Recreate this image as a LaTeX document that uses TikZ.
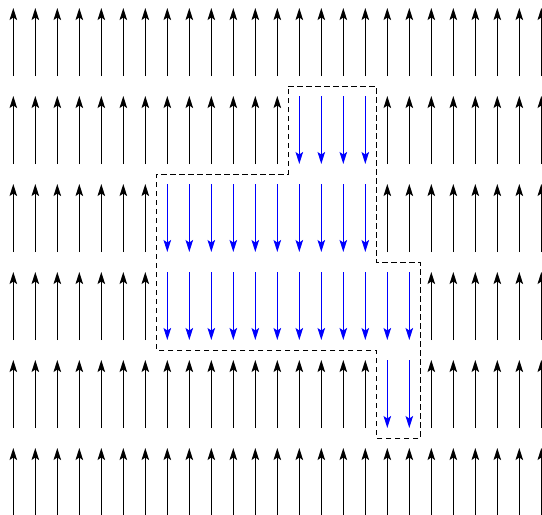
\documentclass[tikz,border=0pt]{standalone}
\usetikzlibrary{arrows.meta}
\begin{document}
\begin{tikzpicture}[x=1pt,y=-1pt,
  spin/.style={line width=1.1pt,-{Stealth[length=12pt,width=7.5pt,inset=2.5pt]}},
  upspin/.style={spin,black},
  downspin/.style={spin,blue},
  domainwall/.style={black,line width=1pt,dash pattern=on 5.5pt off 3.5pt}]
\useasboundingbox (0,0) rectangle (542,515);
\foreach \r in {0,...,5}{
  \foreach \c in {0,...,24}{
    \pgfmathsetmacro\xx{13.3+22*\c}
    \pgfmathsetmacro\yt{8+88*\r}
    \pgfmathsetmacro\yb{76+88*\r}
    \pgfmathtruncatemacro\isblue{((\r==1)&&(\c>=13)&&(\c<=16))||((\r==2)&&(\c>=7)&&(\c<=16))||((\r==3)&&(\c>=7)&&(\c<=18))||((\r==4)&&(\c>=17)&&(\c<=18))}
    \coordinate (t-\r-\c) at (\xx,\yt);
    \coordinate (b-\r-\c) at (\xx,\yb);
    \ifnum\isblue=1
      \draw[downspin] (t-\r-\c) -- (b-\r-\c);
    \else
      \draw[upspin] (b-\r-\c) -- (t-\r-\c);
    \fi
  }
}
\coordinate (p1) at (288.3,86);
\coordinate (p2) at (376.3,86);
\coordinate (p3) at (376.3,262);
\coordinate (p4) at (420.3,262);
\coordinate (p5) at (420.3,438);
\coordinate (p6) at (376.3,438);
\coordinate (p7) at (376.3,350);
\coordinate (p8) at (156.3,350);
\coordinate (p9) at (156.3,174);
\coordinate (p10) at (288.3,174);
\draw[domainwall] (p1) -- (p2) -- (p3) -- (p4) -- (p5) -- (p6) -- (p7) -- (p8) -- (p9) -- (p10) -- cycle;
\end{tikzpicture}
\end{document}
